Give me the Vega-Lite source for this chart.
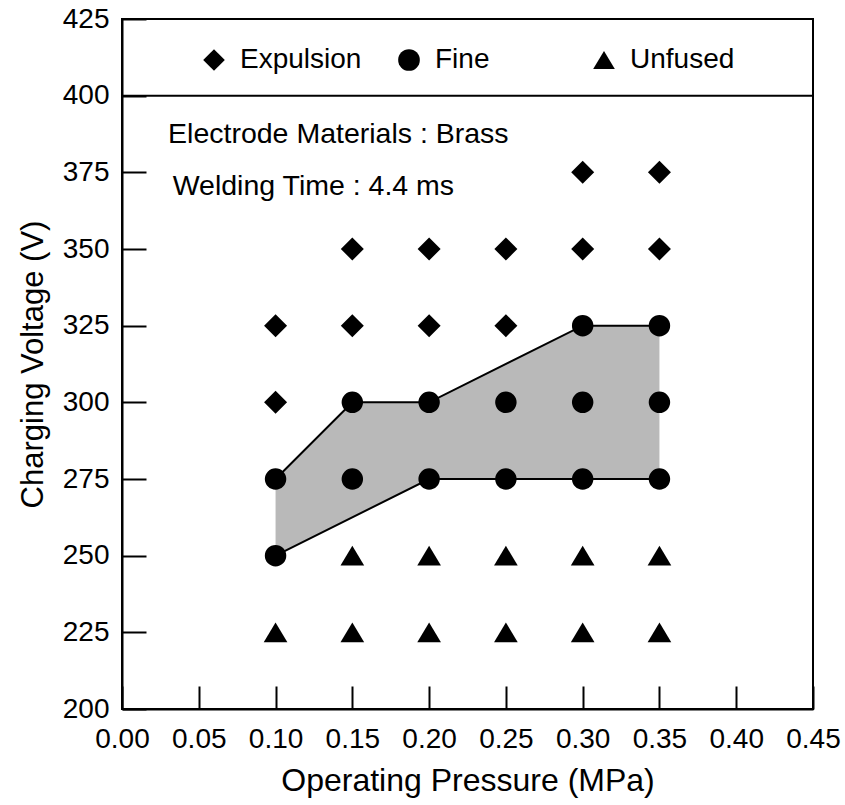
{
  "$schema": "https://vega.github.io/schema/vega-lite/v6.json",
  "width": 691,
  "height": 690,
  "autosize": {"type": "none"},
  "padding": {"left": 122, "top": 19, "right": 32, "bottom": 96},
  "background": "white",
  "config": {
    "font": "Liberation Sans",
    "view": {"stroke": "black", "strokeWidth": 2},
    "axis": {
      "domainColor": "black", "domainWidth": 2,
      "tickColor": "black", "tickWidth": 2,
      "labelColor": "black", "titleColor": "black",
      "labelFontSize": 28, "titleFontSize": 31, "titleFontWeight": "normal",
      "grid": false, "labelFlush": false, "labelOverlap": false
    },
    "legend": {
      "orient": "none", "legendX": 78, "legendY": 27,
      "direction": "horizontal", "columns": 3, "gridAlign": "all",
      "columnPadding": 33, "labelFontSize": 28, "labelColor": "black",
      "labelOffset": 12, "symbolSize": 470, "symbolFillColor": "black",
      "symbolStrokeColor": "black", "symbolStrokeWidth": 0, "padding": 0,
      "titlePadding": 0
    }
  },
  "datasets": {
    "points": [
      {"p": 0.10, "v": 325, "type": "Expulsion"},
      {"p": 0.10, "v": 300, "type": "Expulsion"},
      {"p": 0.15, "v": 350, "type": "Expulsion"},
      {"p": 0.15, "v": 325, "type": "Expulsion"},
      {"p": 0.20, "v": 350, "type": "Expulsion"},
      {"p": 0.20, "v": 325, "type": "Expulsion"},
      {"p": 0.25, "v": 350, "type": "Expulsion"},
      {"p": 0.25, "v": 325, "type": "Expulsion"},
      {"p": 0.30, "v": 375, "type": "Expulsion"},
      {"p": 0.30, "v": 350, "type": "Expulsion"},
      {"p": 0.35, "v": 375, "type": "Expulsion"},
      {"p": 0.35, "v": 350, "type": "Expulsion"},
      {"p": 0.10, "v": 275, "type": "Fine"},
      {"p": 0.10, "v": 250, "type": "Fine"},
      {"p": 0.15, "v": 300, "type": "Fine"},
      {"p": 0.15, "v": 275, "type": "Fine"},
      {"p": 0.20, "v": 300, "type": "Fine"},
      {"p": 0.20, "v": 275, "type": "Fine"},
      {"p": 0.25, "v": 300, "type": "Fine"},
      {"p": 0.25, "v": 275, "type": "Fine"},
      {"p": 0.30, "v": 325, "type": "Fine"},
      {"p": 0.30, "v": 300, "type": "Fine"},
      {"p": 0.30, "v": 275, "type": "Fine"},
      {"p": 0.35, "v": 325, "type": "Fine"},
      {"p": 0.35, "v": 300, "type": "Fine"},
      {"p": 0.35, "v": 275, "type": "Fine"},
      {"p": 0.15, "v": 250, "type": "Unfused"},
      {"p": 0.20, "v": 250, "type": "Unfused"},
      {"p": 0.25, "v": 250, "type": "Unfused"},
      {"p": 0.30, "v": 250, "type": "Unfused"},
      {"p": 0.35, "v": 250, "type": "Unfused"},
      {"p": 0.10, "v": 225, "type": "Unfused"},
      {"p": 0.15, "v": 225, "type": "Unfused"},
      {"p": 0.20, "v": 225, "type": "Unfused"},
      {"p": 0.25, "v": 225, "type": "Unfused"},
      {"p": 0.30, "v": 225, "type": "Unfused"},
      {"p": 0.35, "v": 225, "type": "Unfused"}
    ],
    "region": [
      {"p": 0.10, "v": 250, "k": 1},
      {"p": 0.20, "v": 275, "k": 2},
      {"p": 0.35, "v": 275, "k": 3},
      {"p": 0.35, "v": 325, "k": 4},
      {"p": 0.30, "v": 325, "k": 5},
      {"p": 0.20, "v": 300, "k": 6},
      {"p": 0.15, "v": 300, "k": 7},
      {"p": 0.10, "v": 275, "k": 8}
    ],
    "edges": [
      {"p": 0.10, "v": 275, "edge": "upper"},
      {"p": 0.15, "v": 300, "edge": "upper"},
      {"p": 0.20, "v": 300, "edge": "upper"},
      {"p": 0.30, "v": 325, "edge": "upper"},
      {"p": 0.35, "v": 325, "edge": "upper"},
      {"p": 0.10, "v": 250, "edge": "lower"},
      {"p": 0.20, "v": 275, "edge": "lower"},
      {"p": 0.35, "v": 275, "edge": "lower"}
    ],
    "notes": [
      {"p": 0.030, "v": 384.6, "label": "Electrode Materials : Brass"},
      {"p": 0.033, "v": 367.6, "label": "Welding Time : 4.4 ms"}
    ]
  },
  "layer": [
    {
      "data": {"name": "region"},
      "mark": {"type": "line", "fill": "#b9b9b9", "stroke": null, "strokeWidth": 0},
      "encoding": {
        "x": {
          "field": "p", "type": "quantitative",
          "scale": {"domain": [0, 0.45], "nice": false, "zero": false},
          "axis": {
            "values": [0, 0.05, 0.1, 0.15, 0.2, 0.25, 0.3, 0.35, 0.4, 0.45],
            "format": ".2f", "tickSize": -23, "labelPadding": 39,
            "titlePadding": 12, "titleFontSize": 32
          },
          "title": "Operating Pressure (MPa)"
        },
        "y": {
          "field": "v", "type": "quantitative",
          "scale": {"domain": [200, 425], "nice": false, "zero": false},
          "axis": {
            "values": [200, 225, 250, 275, 300, 325, 350, 375, 400, 425],
            "tickSize": -24, "labelPadding": 37, "titlePadding": 13
          },
          "title": "Charging Voltage (V)"
        },
        "order": {"field": "k", "type": "quantitative"}
      }
    },
    {
      "data": {"name": "edges"},
      "mark": {"type": "line", "color": "black", "strokeWidth": 2},
      "encoding": {
        "x": {"field": "p", "type": "quantitative"},
        "y": {"field": "v", "type": "quantitative"},
        "detail": {"field": "edge", "type": "nominal"}
      }
    },
    {
      "data": {"values": [{}]},
      "mark": {"type": "rule", "color": "black", "strokeWidth": 2},
      "encoding": {"y": {"datum": 400}}
    },
    {
      "data": {"name": "points"},
      "transform": [{"filter": "datum.type === 'Expulsion'"}],
      "mark": {"type": "point", "filled": true, "color": "black", "opacity": 1, "size": 529},
      "encoding": {
        "x": {"field": "p", "type": "quantitative"},
        "y": {"field": "v", "type": "quantitative"},
        "shape": {
          "field": "type", "type": "nominal",
          "scale": {
            "domain": ["Expulsion", "Fine", "Unfused"],
            "range": ["diamond", "circle", "M0,-0.83L-1,0.83L1,0.83Z"]
          },
          "legend": {"title": null}
        }
      }
    },
    {
      "data": {"name": "points"},
      "transform": [{"filter": "datum.type === 'Fine'"}],
      "mark": {"type": "point", "filled": true, "color": "black", "opacity": 1, "size": 460},
      "encoding": {
        "x": {"field": "p", "type": "quantitative"},
        "y": {"field": "v", "type": "quantitative"},
        "shape": {"field": "type", "type": "nominal"}
      }
    },
    {
      "data": {"name": "points"},
      "transform": [{"filter": "datum.type === 'Unfused'"}],
      "mark": {"type": "point", "filled": true, "color": "black", "opacity": 1, "size": 560},
      "encoding": {
        "x": {"field": "p", "type": "quantitative"},
        "y": {"field": "v", "type": "quantitative"},
        "shape": {"field": "type", "type": "nominal"}
      }
    },
    {
      "data": {"name": "notes"},
      "mark": {"type": "text", "align": "left", "baseline": "alphabetic", "fontSize": 28.5, "color": "black"},
      "encoding": {
        "x": {"field": "p", "type": "quantitative"},
        "y": {"field": "v", "type": "quantitative"},
        "text": {"field": "label"}
      }
    }
  ]
}
